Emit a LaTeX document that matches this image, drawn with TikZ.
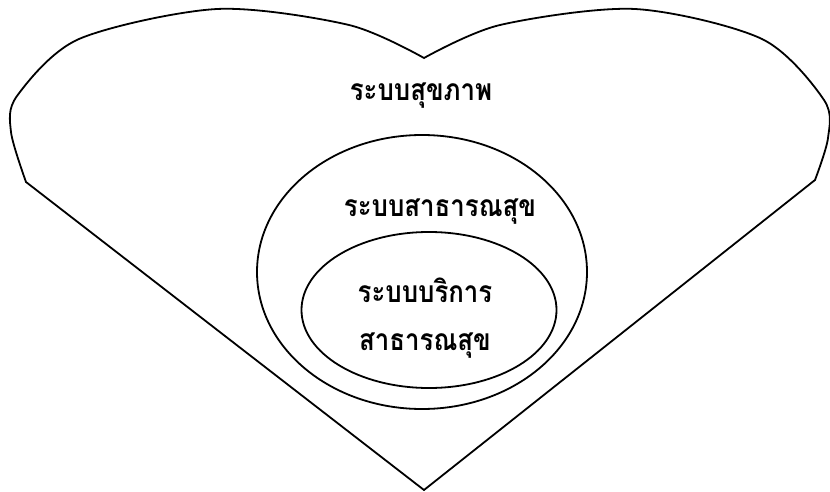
\documentclass[tikz,border=0pt]{standalone}
\usepackage{fontspec}
\newfontfamily\thaifont[Script=Thai, FakeStretch=0.86]{Loma}
\usetikzlibrary{shapes.geometric, positioning}

\begin{document}
\begin{tikzpicture}[x=0.5pt, y=-0.5pt, node distance=13pt, every node/.style={font=\thaifont\bfseries\fontsize{15}{18}\selectfont, inner sep=1pt}, align=center]
  \useasboundingbox (0,0) rectangle (830,492);

  % heart outline
  \draw [line width=0.9pt, line join=miter]
    plot [smooth, tension=0.5] coordinates {(26,182) (11,132) (17,96) (79,39) (217,9) (349,25) (424,58)}
    -- plot [smooth, tension=0.5] coordinates {(424,58) (500,25) (635,9) (762,39) (824,100) (828,138) (815,180)}
    -- (424,490) -- cycle;

  \node (ph_ellipse) [draw, ellipse, line width=0.9pt, minimum width=165pt, minimum height=137pt] at (422,272) {};
  \node (phs_ellipse) [draw, ellipse, line width=0.9pt, minimum width=127.5pt, minimum height=78pt] at (429,310) {};

  \node (hs_label) at (421,96) {ระบบสุขภาพ};
  \node (ph_label) at (440,212) {ระบบสาธารณสุข};
  \node (phs_label) at (425,290) {ระบบบริการ};
  \node (phs_label2) [below=of phs_label] {สาธารณสุข};
\end{tikzpicture}
\end{document}
